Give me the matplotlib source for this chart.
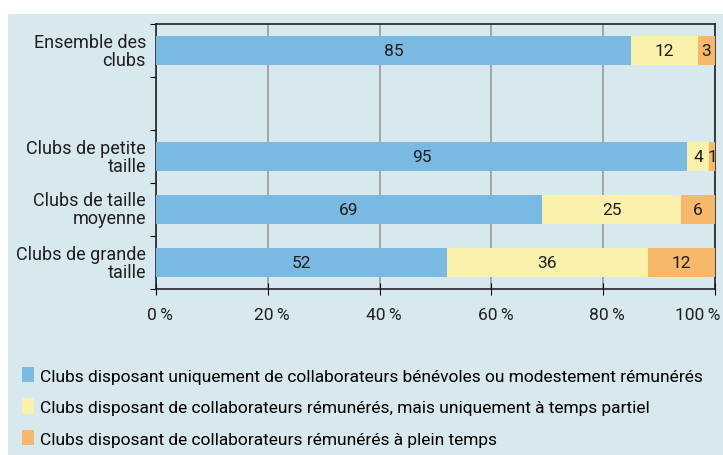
import matplotlib
matplotlib.use('Agg')
import matplotlib.pyplot as plt
import matplotlib.transforms as mtransforms
from matplotlib.patches import Rectangle, Patch

categories = ['Ensemble des\nclubs', 'Clubs de petite\ntaille', 'Clubs de taille\nmoyenne',
              'Clubs de grande\ntaille']
positions = [0, 2, 3, 4]
benevoles = [85, 95, 69, 52]
partiel = [12, 4, 25, 36]
plein = [3, 1, 6, 12]
series_names = ['Clubs disposant uniquement de collaborateurs bénévoles ou modestement rémunérés',
                'Clubs disposant de collaborateurs rémunérés, mais uniquement à temps partiel',
                'Clubs disposant de collaborateurs rémunérés à plein temps']
xticks = [0, 20, 40, 60, 80, 100]
xticklabels = ['0\u2009%', '20\u2009%', '40\u2009%', '60\u2009%', '80\u2009%', '100\u2009%']
colors = ['#7ab9e1', '#faf2ac', '#f8b86c']
bg = '#d8e8ef'
txt = '#1e1e1e'

plt.rcParams['font.family'] = ['Roboto', 'DejaVu Sans']

fig = plt.figure(figsize=(7.23, 4.56), dpi=100)
fig.patches.append(Rectangle((8 / 723, 0), 1, 441 / 456, transform=fig.transFigure,
                             facecolor=bg, edgecolor='none', zorder=-10))

ax = fig.add_axes([156 / 723, 166 / 456, 559 / 723, 265 / 456])
ax.set_facecolor(bg)

left = [0] * len(positions)
for vals, c in zip([benevoles, partiel, plein], colors):
    bars = ax.barh(positions, vals, left=left, height=0.55, color=c, zorder=3)
    for b, v in zip(bars, vals):
        ax.text(b.get_x() + b.get_width() / 2, b.get_y() + b.get_height() / 2, str(v),
                ha='center', va='center', fontsize=12.5, color=txt, zorder=4)
    left = [l + v for l, v in zip(left, vals)]

ax.set_xlim(0, 100)
ax.set_ylim(4.5, -0.5)
ax.set_xticks(xticks)
ax.set_xticklabels(xticklabels, fontsize=12.5, color=txt)
ax.tick_params(axis='x', direction='inout', length=8, pad=9)
# labels sit a little right of their ticks, the last one is pulled inside
shift = mtransforms.ScaledTranslation(4 / 100, 0, fig.dpi_scale_trans)
labs = ax.get_xticklabels()
for lab in labs:
    lab.set_transform(lab.get_transform() + shift)
labs[-1].set_horizontalalignment('right')
labs[-1].set_transform(labs[-1].get_transform()
                       + mtransforms.ScaledTranslation(1 / 100, 0, fig.dpi_scale_trans))

ax.set_yticks([-0.5, 0.5, 1.5, 2.5, 3.5, 4.5])
ax.set_yticklabels([])
ax.tick_params(axis='y', direction='out', length=4)
for p, c in zip(positions, categories):
    ax.text(-1.8, p, c, ha='right', va='center', fontsize=13, color=txt,
            linespacing=1.0)
ax.grid(True, axis='x', color='#999999', linewidth=1.2, zorder=1)
for s in ax.spines.values():
    s.set_color('#222222')
    s.set_linewidth(1.2)

handles = [Patch(facecolor=c, edgecolor='none') for c in colors]
fig.legend(handles, series_names, loc='upper left', bbox_to_anchor=(15 / 723, 1 - 361 / 456),
           frameon=False, fontsize=12.5, handlelength=0.7, handleheight=1.0,
           handletextpad=0.35, labelspacing=0.85, borderaxespad=0)

fig.savefig('out.png', dpi=100)
